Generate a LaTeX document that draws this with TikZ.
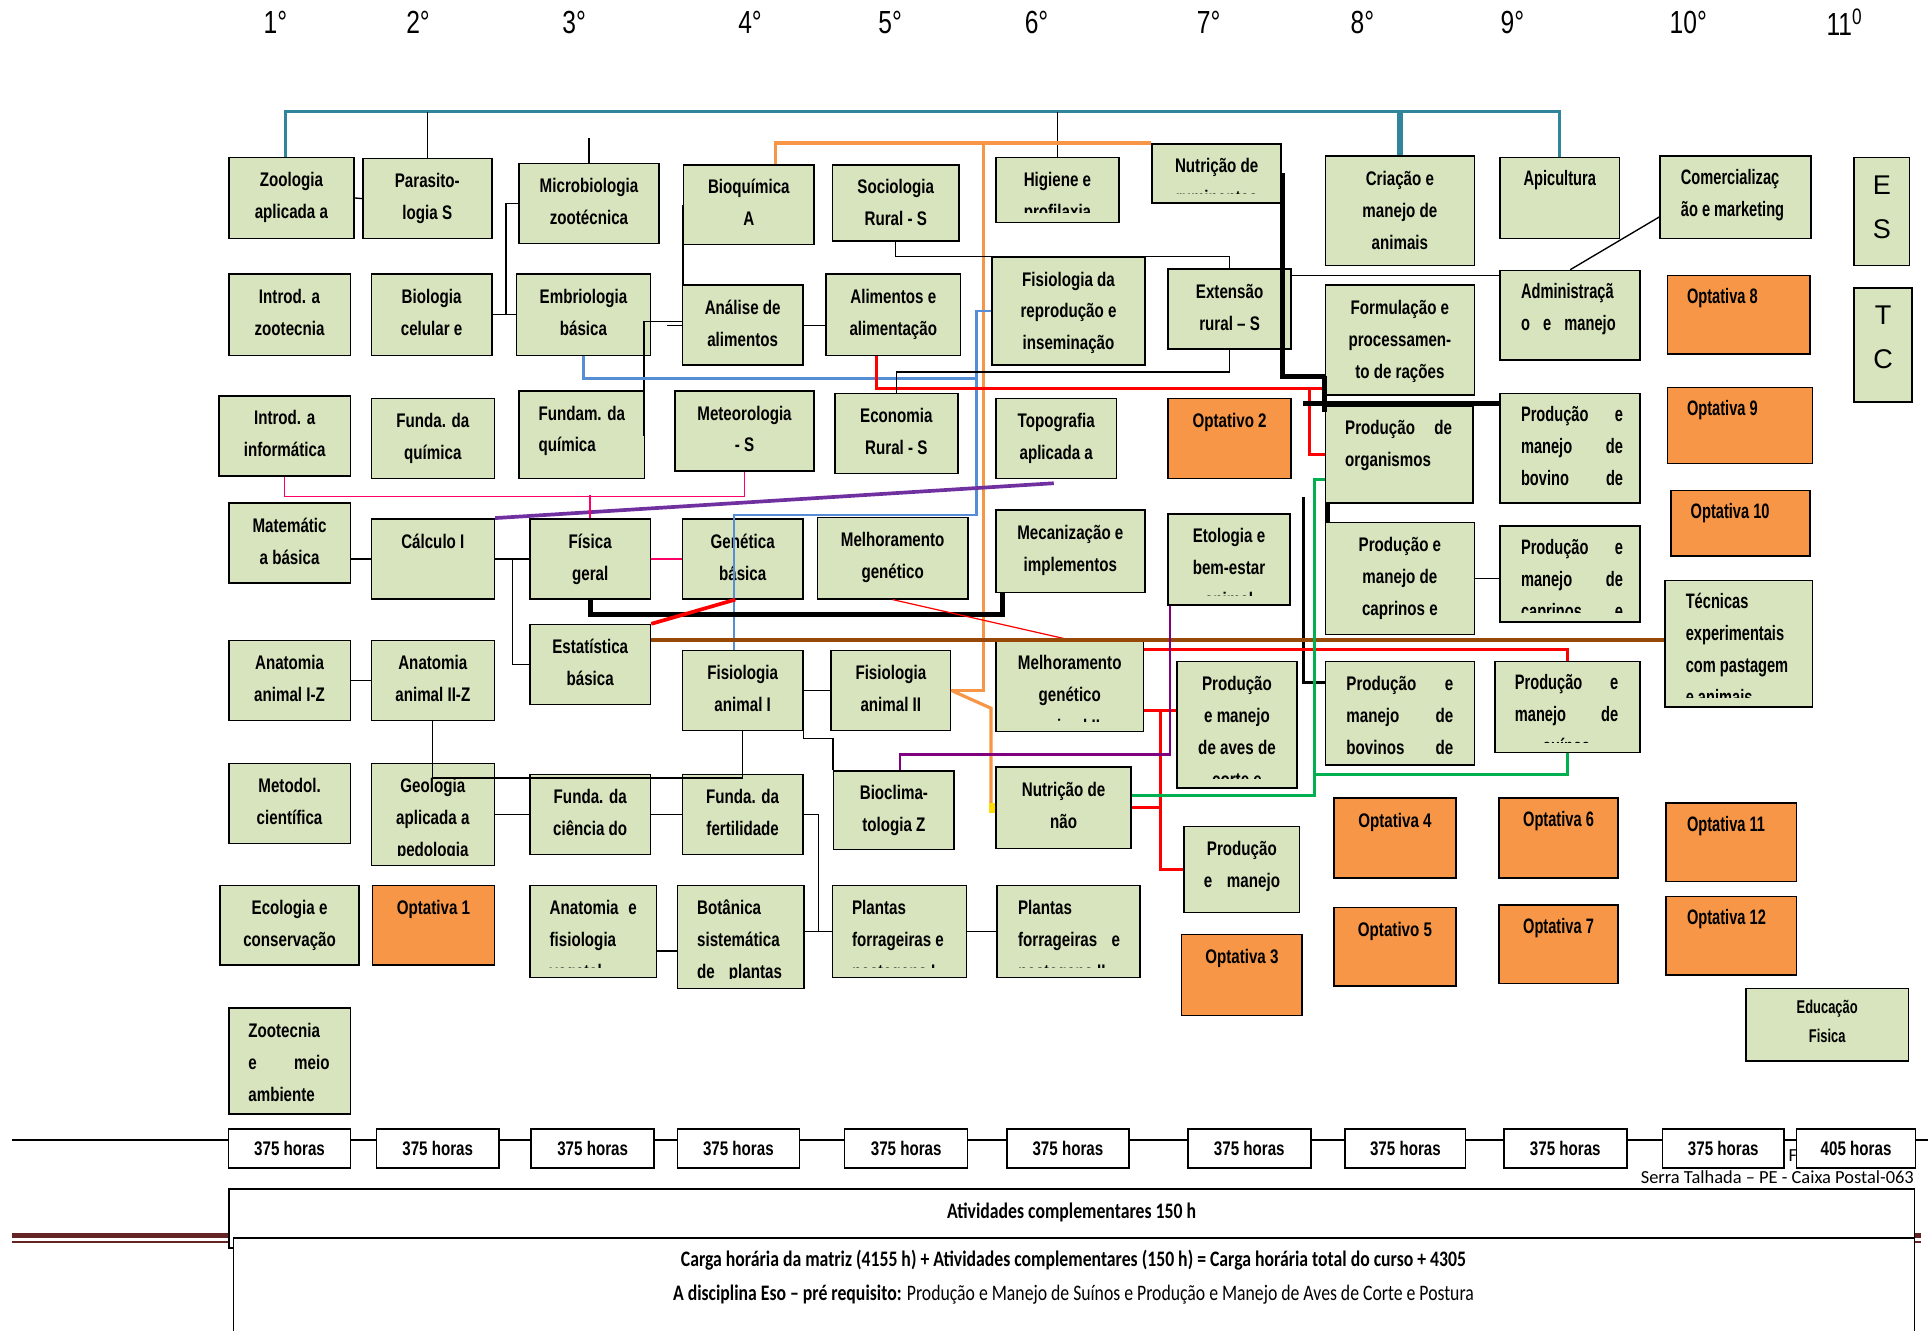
\documentclass[tikz,border=0pt]{standalone}
\usepackage{fontspec}
\setmainfont{Liberation Sans}
\newfontfamily\narrowfont[FakeStretch=0.77]{Liberation Sans}
\newfontfamily\squeezefont[FakeStretch=0.7]{Liberation Sans}
\newfontfamily\calib[FakeStretch=0.8]{Carlito}
\newfontfamily\calibn{Carlito}
\definecolor{boxgreen}{RGB}{215,228,189}
\definecolor{optorange}{RGB}{247,150,70}
\definecolor{tealcol}{RGB}{49,133,155}
\definecolor{orcol}{RGB}{247,150,70}
\definecolor{bluecol}{RGB}{85,142,213}
\definecolor{browncol}{RGB}{151,72,7}
\definecolor{purcol}{RGB}{112,48,160}
\definecolor{violcol}{RGB}{128,0,128}
\definecolor{pinkcol}{RGB}{255,0,102}
\definecolor{greencol}{RGB}{0,176,80}
\definecolor{footcol}{RGB}{99,36,35}
\newcommand\narrowbf{\narrowfont\bfseries\fontsize{16}{26}\selectfont}
\newcommand\widebf{\squeezefont\bfseries\fontsize{17}{26}\selectfont}

\begin{document}
\begin{tikzpicture}[x=1pt, y=-1pt,
      txt/.style={draw=none, fill=none, rectangle, inner sep=0pt, outer sep=0pt, minimum width=0pt, minimum height=0pt},
      box/.style={rectangle, draw=black, line width=1.3pt, fill=boxgreen, inner sep=0pt},
      opt/.style={box, fill=optorange},
      hr/.style={rectangle, draw=black, line width=1.2pt, fill=white, minimum height=32, font=\narrowfont\bfseries\fontsize{16}{18}\selectfont},
      hd/.style={font=\narrowfont\fontsize{26}{30}\selectfont},
      nt/.style={path picture={
          \clip ([yshift=8pt]path picture bounding box.south west) rectangle (path picture bounding box.north east);
          \node[txt, anchor=north, align=center, font=\narrowbf] at ([yshift=-12pt]path picture bounding box.north) {\rule{0pt}{11.5pt}#1};}},
      ntl/.style 2 args={path picture={
          \clip ([yshift=8pt]path picture bounding box.south west) rectangle (path picture bounding box.north east);
          \node[txt, anchor=north west, align=left, font=\narrowbf] at ([shift={(#1pt,-12pt)}]path picture bounding box.north west) {\rule{0pt}{11.5pt}#2};}},
      wt/.style={path picture={
          \clip ([yshift=8pt]path picture bounding box.south west) rectangle (path picture bounding box.north east);
          \node[txt, anchor=north, align=center, font=\widebf] at ([yshift=-10.5pt]path picture bounding box.north) {\rule{0pt}{12.5pt}#1};}},
      wtl/.style 2 args={path picture={
          \clip ([yshift=8pt]path picture bounding box.south west) rectangle (path picture bounding box.north east);
          \node[txt, anchor=north west, align=left, font=\widebf] at ([shift={(#1pt,-10.5pt)}]path picture bounding box.north west) {\rule{0pt}{12.5pt}#2};}},
      eft/.style={path picture={
          \node[txt, anchor=north, align=center, font=\squeezefont\bfseries\fontsize{15}{24}\selectfont] at ([yshift=-9pt]path picture bounding box.north) {\rule{0pt}{11pt}#1};}},
      bt/.style={path picture={
          \node[txt, anchor=north, align=center, font=\fontsize{22}{36}\selectfont] at ([yshift=-14pt]path picture bounding box.north) {\rule{0pt}{16pt}#1};}},
      link/.style={draw=black, line width=1.1pt},
      heavy/.style={draw=black, line width=4pt},
      tealln/.style={draw=tealcol, line width=2.6pt},
      orln/.style={draw=orcol, line width=2.6pt},
      bluln/.style={draw=bluecol, line width=2pt},
      redln/.style={draw=red, line width=2.5pt},
      redthin/.style={draw=red, line width=1pt},
      brownln/.style={draw=browncol, line width=2.6pt},
      purln/.style={draw=purcol, line width=3pt},
      violln/.style={draw=violcol, line width=2pt},
      pinkln/.style={draw=pinkcol, line width=1.3pt},
      greenln/.style={draw=greencol, line width=2.2pt}]

      \useasboundingbox (0,0) rectangle (1568,1082);
      \fill[white] (0,0) rectangle (1568,1082);

      % Rodape da pagina
      \fill[footcol] (10,1003) rectangle (1562,1007);
      \draw[footcol, line width=1pt] (10,1010) -- (1562,1010);

      % Carga horaria por periodo
      \coordinate (hs) at (10,927);
      \coordinate (he) at (1568,927);
      \draw[link] (hs) -- (he);
      \node[anchor=west, font=\calibn\fontsize{15}{17}\selectfont] (fa) at (1451,940) {Fa};
      \node[hr, minimum width=99] (h1) at (235.5,934) {375 horas};
      \node[hr, minimum width=100] (h2) at (356,934) {375 horas};
      \node[hr, minimum width=100] (h3) at (482,934) {375 horas};
      \node[hr, minimum width=99] (h4) at (600.5,934) {375 horas};
      \node[hr, minimum width=100] (h5) at (737,934) {375 horas};
      \node[hr, minimum width=99] (h6) at (868.5,934) {375 horas};
      \node[hr, minimum width=100] (h7) at (1016,934) {375 horas};
      \node[hr, minimum width=98] (h8) at (1143,934) {375 horas};
      \node[hr, minimum width=100] (h9) at (1273,934) {375 horas};
      \node[hr, minimum width=99] (h10) at (1401.5,934) {375 horas};
      \node[hr, minimum width=97] (h11) at (1509.5,934) {405 horas};
      \node[anchor=east, font=\calibn\fontsize{15}{17}\selectfont] (serra) at (1560,957) {Serra Talhada – PE - Caixa Postal-063};

      % Quadros de baixo
      \node[rectangle, draw=black, line width=1.3pt, fill=white, minimum width=1371, minimum height=48, inner sep=0pt] (ativ) at (871.5,991) {};
      \node[font=\calib\bfseries\fontsize{18}{20}\selectfont] (ativt) at (871.5,986) {Atividades complementares 150 h};
      \node[rectangle, draw=black, line width=1.3pt, fill=white, minimum width=1367, minimum height=90, inner sep=0pt] (carga) at (873.5,1052) {};
      \node[font=\calib\bfseries\fontsize{18}{20}\selectfont] (cargat) at (873,1025) {Carga horária da matriz (4155 h) + Atividades complementares (150 h) = Carga horária total do curso + 4305};
      \node[font=\calib\fontsize{18}{20}\selectfont] (esot) at (873,1053) {\textbf{A disciplina Eso – pré requisito:} Produção e Manejo de Suínos e Produção e Manejo de Aves de Corte e Postura};

      % Periodos
      \node[hd] (s1) at (224,18) {1°};
      \node[hd] (s2) at (340,18) {2°};
      \node[hd] (s3) at (467,18) {3°};
      \node[hd] (s4) at (610,18) {4°};
      \node[hd] (s5) at (724,18) {5°};
      \node[hd] (s6) at (843,18) {6°};
      \node[hd] (s7) at (983,18) {7°};
      \node[hd] (s8) at (1108,18) {8°};
      \node[hd] (s9) at (1230,18) {9°};
      \node[hd] (s10) at (1373,18) {10°};
      \node[hd] (s11) at (1500,18) {11\textsuperscript{0}};

      % Coluna 1
      \node[box, nt={Zoologia\\aplicada a}, minimum width=102, minimum height=66] (zoo) at (237,161) {};
      \node[box, nt={Introd. a\\zootecnia}, minimum width=99, minimum height=66] (izoo) at (235.5,256) {};
      \node[box, nt={Introd. a\\informática}, minimum width=107, minimum height=65] (iinf) at (231.5,354.5) {};
      \node[box, nt={Matemátic\\a básica}, minimum width=99, minimum height=65] (mat) at (235.5,441.5) {};
      \node[box, nt={Anatomia\\animal I-Z}, minimum width=99, minimum height=65] (anat1) at (235.5,553.5) {};
      \node[box, nt={Metodol.\\científica}, minimum width=99, minimum height=65] (metod) at (235.5,653.5) {};
      \node[box, nt={Ecologia e\\conservação}, minimum width=113, minimum height=65] (ecol) at (235.5,752.5) {};
      \node[box, ntl={16}{Zootecnia\\\makebox[66pt][s]{e meio}\\ambiente}, minimum width=99, minimum height=86] (zmeio) at (235.5,863) {};

      % Coluna 2
      \node[box, nt={Parasito-\\logia S}, minimum width=105, minimum height=65] (para) at (347.5,161.5) {};
      \node[box, nt={Biologia\\celular e}, minimum width=98, minimum height=66] (biol) at (351,256) {};
      \node[box, nt={Funda. da\\química}, minimum width=100, minimum height=65] (fquim) at (352,356.5) {};
      \node[box, nt={Cálculo I}, minimum width=100, minimum height=65] (calc) at (352,454.5) {};
      \node[box, nt={Anatomia\\animal II-Z}, minimum width=100, minimum height=65] (anat2) at (352,553.5) {};
      \node[box, nt={Geologia\\aplicada a\\pedologia}, minimum width=100, minimum height=83] (geol) at (352,662.5) {};
      \node[opt, nt={Optativa 1}, minimum width=99, minimum height=65] (opt1) at (352.5,752.5) {};

      % Coluna 3
      \node[box, nt={Microbiologia\\zootécnica}, minimum width=114, minimum height=65] (micro) at (479,165.5) {};
      \node[box, nt={Embriologia\\básica}, minimum width=109, minimum height=66] (embrio) at (474.5,256) {};
      \node[box, ntl={16}{Fundam. da\\química}, minimum width=102, minimum height=71] (fundq) at (473,353.5) {};
      \node[box, nt={Física\\geral}, minimum width=98, minimum height=65] (fis) at (480,454.5) {};
      \node[box, nt={Estatística\\básica}, minimum width=98, minimum height=65] (estat) at (480,540.5) {};
      \node[box, nt={Funda. da\\ciência do}, minimum width=98, minimum height=65] (fcien) at (480,662.5) {};
      \node[box, ntl={16}{\makebox[71pt][s]{Anatomia e}\\fisiologia\\vegetal}, minimum width=103, minimum height=75] (anfis) at (482.5,757.5) {};

      % Coluna 4
      \node[box, nt={Bioquímica\\A}, minimum width=106, minimum height=65] (bioq) at (609,166.5) {};
      \node[box, nt={Análise de\\alimentos}, minimum width=98, minimum height=65] (anal) at (604,264.5) {};
      \node[box, nt={Meteorologia\\- S}, minimum width=113, minimum height=65] (meteo) at (605.5,350.5) {};
      \node[box, nt={Genética\\básica}, minimum width=98, minimum height=65] (gen) at (604,454.5) {};
      \node[box, nt={Fisiologia\\animal I}, minimum width=98, minimum height=65] (fis1) at (604,561.5) {};
      \node[box, nt={Funda. da\\fertilidade}, minimum width=98, minimum height=65] (ffert) at (604,662.5) {};
      \node[box, ntl={16}{Botânica\\sistemática\\\makebox[69pt][s]{de plantas}}, minimum width=103, minimum height=84] (bot) at (602.5,762) {};

      % Coluna 5
      \node[box, nt={Sociologia\\Rural - S}, minimum width=103, minimum height=62] (socio) at (728.5,165) {};
      \node[box, nt={Alimentos e\\alimentação}, minimum width=109, minimum height=66] (alim) at (726.5,256) {};
      \node[box, nt={Economia\\Rural - S}, minimum width=100, minimum height=65] (econ) at (729,352.5) {};
      \node[box, nt={Melhoramento\\genético}, minimum width=122, minimum height=66] (melh) at (726,454) {};
      \node[box, nt={Fisiologia\\animal II}, minimum width=97, minimum height=65] (fis2) at (724.5,561.5) {};
      \node[box, nt={Bioclima-\\tologia Z}, minimum width=98, minimum height=64] (biocl) at (727,659) {};
      \node[box, ntl={16}{Plantas\\forrageiras e\\pastagens I}, minimum width=109, minimum height=75] (plant1) at (731.5,757.5) {};

      % Coluna 6
      \node[box, nt={Higiene e\\profilaxia}, minimum width=100, minimum height=53] (hig) at (860,154.5) {};
      \node[box, nt={Fisiologia da\\reprodução e\\inseminação}, minimum width=124, minimum height=88] (repro) at (869,253) {};
      \node[box, nt={Topografia\\aplicada a}, minimum width=98, minimum height=65] (topo) at (859,356.5) {};
      \node[box, nt={Mecanização e\\implementos}, minimum width=121, minimum height=67] (mec) at (870.5,448.5) {};
      \node[box, nt={Melhoramento\\genético\\animal II}, minimum width=120, minimum height=74] (melh2) at (870,558) {};
      \node[box, nt={Nutrição de\\não}, minimum width=110, minimum height=66] (nutnr) at (865,657) {};
      \node[box, ntl={17}{Plantas\\\makebox[83pt][s]{forrageiras e}\\pastagens II}, minimum width=116, minimum height=75] (plant2) at (869,757.5) {};

      % Coluna 7
      \node[box, nt={Nutrição de\\ruminantes}, minimum width=105, minimum height=48] (nutm) at (989.5,141) {};
      \node[box, nt={Extensão\\rural – S}, minimum width=100, minimum height=65] (ext) at (1000,251.5) {};
      \node[opt, nt={Optativo 2}, minimum width=100, minimum height=65] (opt2) at (1000,356.5) {};
      \node[box, nt={Etologia e\\bem-estar\\animal}, minimum width=99, minimum height=74] (etol) at (999.5,455) {};
      \node[box, nt={Produção\\e manejo\\de aves de\\corte e}, minimum width=98, minimum height=103] (aves) at (1006,589.5) {};
      \node[box, nt={Produção\\\makebox[62pt][s]{e manejo}}, minimum width=94, minimum height=70] (pman) at (1010,707) {};
      \node[opt, nt={Optativa 3}, minimum width=98, minimum height=66] (opt3) at (1010,793) {};

      % Coluna 8
      \node[box, nt={Criação e\\manejo de\\animais}, minimum width=121, minimum height=89] (cria) at (1138.5,171.5) {};
      \node[box, nt={Formulação e\\processamen-\\to de rações}, minimum width=121, minimum height=89] (form) at (1138.5,276.5) {};
      \node[box, ntl={16}{\makebox[87pt][s]{Produção de}\\organismos}, minimum width=120, minimum height=79] (porg) at (1138,369.5) {};
      \node[box, nt={Produção e\\manejo de\\caprinos e}, minimum width=121, minimum height=91] (pcap) at (1138.5,470.5) {};
      \node[box, ntl={17}{\makebox[87pt][s]{Produção e}\\\makebox[87pt][s]{manejo de}\\\makebox[87pt][s]{bovinos de}}, minimum width=121, minimum height=84] (pbovl) at (1138.5,580) {};
      \node[opt, nt={Optativa 4}, minimum width=99, minimum height=65] (opt4) at (1134.5,681.5) {};
      \node[opt, nt={Optativo 5}, minimum width=99, minimum height=64] (opt5) at (1134.5,770) {};

      % Coluna 9
      \node[box, wt={Apicultura}, minimum width=97, minimum height=66] (apic) at (1268.5,161) {};
      \node[box, wtl={17}{Administraçã\\\makebox[77pt][s]{o e manejo}}, minimum width=114, minimum height=73] (adm) at (1277,256.5) {};
      \node[box, wtl={17}{\makebox[83pt][s]{Produção e}\\\makebox[83pt][s]{manejo de}\\\makebox[83pt][s]{bovino de}}, minimum width=114, minimum height=89] (pbovc) at (1277,364.5) {};
      \node[box, wtl={17}{\makebox[83pt][s]{Produção e}\\\makebox[83pt][s]{manejo de}\\\makebox[83pt][s]{caprinos e}}, minimum width=114, minimum height=78] (pcap2) at (1277,467) {};
      \node[box, wtl={16}{\makebox[84pt][s]{Produção e}\\\makebox[84pt][s]{manejo de}\\\makebox[84pt]{suínos}}, minimum width=118, minimum height=74] (psui) at (1275,575) {};
      \node[opt, wt={Optativa 6}, minimum width=97, minimum height=65] (opt6) at (1267.5,681.5) {};
      \node[opt, wt={Optativa 7}, minimum width=97, minimum height=64] (opt7) at (1267.5,768) {};

      % Coluna 10
      \node[box, wtl={17}{Comercializaç\\ão e marketing}, minimum width=123, minimum height=67] (comer) at (1411.5,160.5) {};
      \node[opt, wtl={16}{Optativa 8}, minimum width=116, minimum height=64] (opt8) at (1414,256) {};
      \node[opt, wtl={16}{Optativa 9}, minimum width=118, minimum height=62] (opt9) at (1415,346) {};
      \node[opt, wtl={16}{Optativa 10}, minimum width=113, minimum height=53] (opt10) at (1415.5,425.5) {};
      \node[box, wtl={17}{Técnicas\\experimentais\\com pastagem\\e animais}, minimum width=120, minimum height=103] (tec) at (1414,523.5) {};
      \node[opt, wtl={17}{Optativa 11}, minimum width=106, minimum height=64] (opt11) at (1408,685) {};
      \node[opt, wtl={17}{Optativa 12}, minimum width=106, minimum height=64] (opt12) at (1408,761) {};
      \node[box, eft={Educação\\Fisica}, minimum width=132, minimum height=59] (edf) at (1486,833.5) {};

      % Coluna 11
      \node[box, bt={E\\S}, minimum width=45, minimum height=88] (es) at (1530.5,172) {};
      \node[box, bt={T\\C}, minimum width=47, minimum height=93] (tc) at (1531.5,280.5) {};

      % Ligacoes de cima
      \coordinate (tt) at (0,91);
      \draw[tealln] ([xshift=-5pt]zoo.north) |- (tt -| apic.north) -- (apic.north);
      \draw[tealln, line width=4.5pt] (cria.north) -- (cria.north |- tt);
      \draw[link] (para.north) -- (para.north |- tt);
      \draw[link] (hig.north) -- (hig.north |- tt);
      \draw[link] (micro.north) -- ++(0,-20);

      % Laranja
      \coordinate (o1) at (800,117);
      \coordinate (o2) at (800,561.5);
      \coordinate (o3) at (806,576);
      \draw[orln] ([xshift=22pt]bioq.north) |- (nutm.north west);
      \draw[orln] (o1) -- (o2) -- (fis2.east);
      \draw[orln] (fis2.east) -- (o3) |- (nutnr.west);
      \fill[yellow!80!orange] ([xshift=-5pt,yshift=4pt]nutnr.west) rectangle ([yshift=-4pt]nutnr.west);

      % Pretas, colunas 1 a 5
      \draw[link] (zoo.east) -- (para.west);
      \draw[link] (biol.east) -- (embrio.west);
      \draw[link] ([xshift=11pt]biol.east) |- (micro.west);
      \draw[link] (bioq.west) -- (bioq.west |- anal.north);
      \draw[link] ([shift={(-1pt,-37pt)}]fundq.north east) |- ([yshift=3pt]anal.west);
      \draw[link] ([xshift=-12pt]anal.west) -- (anal.west);
      \draw[link] (anal.east) -- (anal.east -| alim.west);

      % Azul
      \coordinate (b1) at (794,308);
      \coordinate (b2) at (794,419);
      \draw[bluln] (embrio.south) |- (b1) |- (repro.west);
      \draw[bluln] (b1) -- (b2) -| ([xshift=-7pt]fis1.north);

      % Vermelha de alimentos
      \coordinate (r1) at (1065,316);
      \draw[redln] ([xshift=-13.5pt]alim.south) |- (r1) -- (r1 -| form.west);
      \draw[redln] (r1) |- (porg.west);

      % Sociologia, extensao, economia
      \draw[link] (socio.south) -- ++(0,12) -| (ext.north);
      \draw[link] (ext.south) -- ++(0,18) -| (econ.north);
      \coordinate (a1) at ([yshift=27.5pt]ext.east);
      \draw[link] (a1) -- (a1 -| adm.west);
      \draw[link] (adm.north) -- ([yshift=-16pt]comer.west);

      % Preta grossa
      \draw[heavy] (nutm.east) |- ([yshift=-29.5pt]form.west);
      \draw[heavy] ([yshift=-29.5pt]form.west) -- ([yshift=-6pt]porg.north west);
      \coordinate (k1) at (1060,328);
      \draw[heavy] (k1) -- (k1 -| pbovc.west);
      \draw[heavy] ([xshift=2pt]porg.south west) -- ([xshift=2pt]pcap.north west);
      \coordinate (k2) at (1060,404);
      \draw[link, line width=2pt] (k2) |- ([yshift=25pt]pbovl.west);

      % Linhas do meio
      \coordinate (p1) at (857,393);
      \draw[link] (calc.west -| mat.east) -- (calc.west);
      \draw[purln] (calc.north east) -- (p1);
      \draw[pinkln] (iinf.south) -- ++(0,16) -| (meteo.south);
      \draw[pinkln] (fis.north) -- ++(0,-19);
      \draw[link] (calc.east) -- (fis.west);
      \draw[link] ([xshift=14pt]calc.east) |- (estat.west);
      \draw[pinkln] (fis.east) -- (gen.west);
      \draw[heavy] (fis.south) -- ++(0,12) -| ([xshift=6pt]mec.south west);
      \draw[redln, line width=3pt] (estat.north east) -- ([xshift=-6pt]gen.south);
      \draw[redthin] (melh.south) -- (melh2.north);
      \coordinate (bw) at ([yshift=20pt]estat.east);
      \draw[brownln] (bw) -- (bw -| tec.west);
      \draw[redln] ([yshift=-8pt]melh2.north east) -| (psui.north);
      \coordinate (r3) at ([yshift=-20pt]melh2.east);
      \coordinate (r4) at (944,578);
      \draw[redln] (r3) -- (r3 -| aves.west);
      \draw[redln] (r4) |- (pman.west);
      \draw[redln] (nutnr.east) -- (nutnr.east -| r4);
      \draw[violln] ([xshift=2pt]etol.south west) -- ++(0,121) -| ([xshift=5pt]biocl.north);
      \coordinate (g1) at (1069,390);
      \coordinate (g2) at (1069,630);
      \draw[greenln] ([yshift=10pt]nutnr.east) -| (g1) -- (g1 -| porg.west);
      \draw[greenln] (g2) -| (psui.south);

      % Linhas de baixo
      \draw[link] (fis1.east) -- (fis2.west);
      \draw[link] (fis1.south east) -- ++(0,6) -| (biocl.north west);
      \draw[link] (anat2.south) -- ++(0,46) -| (fis1.south);
      \draw[link] (geol.east) -- (fcien.west);
      \draw[link] (fcien.east) -- (ffert.west);
      \draw[link] (ffert.east) -- ++(12,0) |- (plant1.west);
      \draw[link] (plant1.west -| bot.east) -- (plant1.west);
      \draw[link] ([yshift=-16pt]anfis.east) -- ++(17,0);
      \draw[link] (plant1.east) -- (plant2.west);
      \draw[link] (anat1.east) -- (anat2.west);
      \draw[link] (pcap.east) -- (pcap.east -| pcap2.west);
    \end{tikzpicture}
\end{document}
